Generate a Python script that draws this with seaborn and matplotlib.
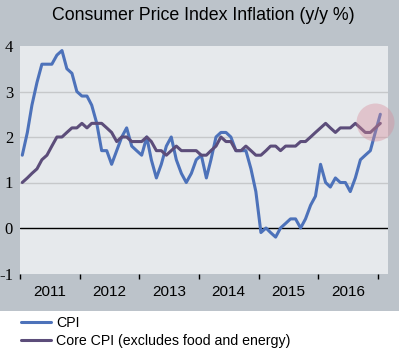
import pandas as pd
import matplotlib
matplotlib.use("Agg")
import matplotlib.pyplot as plt
import matplotlib.dates as mdates
from matplotlib.patches import Rectangle, Ellipse
import seaborn as sns

# monthly y/y % change, Jan 2011 - Jan 2017
cpi = [1.6, 2.1, 2.7, 3.2, 3.6, 3.6, 3.6, 3.8, 3.9, 3.5, 3.4, 3.0,
       2.9, 2.9, 2.7, 2.3, 1.7, 1.7, 1.4, 1.7, 2.0, 2.2, 1.8, 1.7,
       1.6, 2.0, 1.5, 1.1, 1.4, 1.8, 2.0, 1.5, 1.2, 1.0, 1.2, 1.5,
       1.6, 1.1, 1.5, 2.0, 2.1, 2.1, 2.0, 1.7, 1.7, 1.7, 1.3, 0.8,
       -0.1, 0.0, -0.1, -0.2, 0.0, 0.1, 0.2, 0.2, 0.0, 0.2, 0.5, 0.7,
       1.4, 1.0, 0.9, 1.1, 1.0, 1.0, 0.8, 1.1, 1.5, 1.6, 1.7, 2.1,
       2.5]
core_cpi = [1.0, 1.1, 1.2, 1.3, 1.5, 1.6, 1.8, 2.0, 2.0, 2.1, 2.2, 2.2,
            2.3, 2.2, 2.3, 2.3, 2.3, 2.2, 2.1, 1.9, 2.0, 2.0, 1.9, 1.9,
            1.9, 2.0, 1.9, 1.7, 1.7, 1.6, 1.7, 1.8, 1.7, 1.7, 1.7, 1.7,
            1.6, 1.6, 1.7, 1.8, 2.0, 1.9, 1.9, 1.7, 1.7, 1.8, 1.7, 1.6,
            1.6, 1.7, 1.8, 1.8, 1.7, 1.8, 1.8, 1.8, 1.9, 1.9, 2.0, 2.1,
            2.2, 2.3, 2.2, 2.1, 2.2, 2.2, 2.2, 2.3, 2.2, 2.1, 2.1, 2.2,
            2.3]
years = ["2011", "2012", "2013", "2014", "2015", "2016"]
y_ticks = [-1, 0, 1, 2, 3, 4]

dates = pd.date_range("2011-01-01", periods=len(cpi), freq="MS") + pd.Timedelta(days=14)
df = pd.DataFrame({"date": dates, "CPI": cpi,
                   "Core CPI (excludes food and energy)": core_cpi})
df = df.melt(id_vars="date", var_name="series", value_name="value")

sns.set_style("white")
plt.rcParams["font.family"] = ["Liberation Sans", "DejaVu Sans"]
plt.rcParams["text.color"] = "black"
plt.rcParams["xtick.color"] = "black"
plt.rcParams["ytick.color"] = "black"

W, H = 399, 351
fig = plt.figure(figsize=(W / 100, H / 100), dpi=100)
fig.patch.set_facecolor("white")
fig.patches.append(Rectangle((0, 1 - 310.5 / H), 1, 310.5 / H, transform=fig.transFigure,
                             facecolor="#bcc3ca", edgecolor="none", zorder=-10))

ax = fig.add_axes([20 / W, 1 - 273.5 / H, 368 / W, 227.5 / H])
ax.set_facecolor("#e6e9ec")

palette = {"CPI": "#4d72ba", "Core CPI (excludes food and energy)": "#5c4d7a"}
sns.lineplot(data=df, x="date", y="value", hue="series", palette=palette,
             linewidth=2.2, ax=ax, legend=True)

ax.set_ylim(-1, 4)
ax.set_yticks(y_ticks)
ax.set_yticklabels([str(v) for v in y_ticks], family="Liberation Serif", fontsize=12)
for v in [1, 2, 3]:
    ax.axhline(v, color="#c6c8ca", linewidth=1, zorder=0.5)
ax.axhline(0, color="black", linewidth=1, zorder=1)

ax.set_xlim(pd.Timestamp("2011-01-01"), pd.Timestamp("2017-03-03"))
ax.xaxis.set_major_locator(mdates.YearLocator())
ax.xaxis.set_major_formatter(plt.NullFormatter())
ax.set_xticks([pd.Timestamp(f"{y}-07-02") for y in years], minor=True)
ax.set_xticklabels(years, minor=True, fontsize=11)
ax.tick_params(axis="x", which="major", direction="out", length=3.5, width=1, color="black", bottom=True)
ax.tick_params(axis="x", which="minor", length=0, pad=8)
ax.tick_params(axis="y", length=0, pad=5)
ax.set_xlabel("")
ax.set_ylabel("")
for s in ax.spines.values():
    s.set_visible(False)

# highlight on the latest reading
ax.add_patch(Ellipse((375.5 / W, 1 - 122.5 / H), 38 / W, 38 / H, transform=fig.transFigure,
                     facecolor="#d88a98", alpha=0.38, edgecolor="none", zorder=5, clip_on=False))

handles, labels = ax.get_legend_handles_labels()
ax.get_legend().remove()
fig.legend(handles, labels, loc="upper left", bbox_to_anchor=(18 / W, 1 - 313 / H),
           frameon=False, fontsize=10.2, handlelength=2.1, handletextpad=0.4,
           labelspacing=0.3, borderaxespad=0, borderpad=0.2)

fig.text(203.5 / W, 1 - 15 / H, "Consumer Price Index Inflation (y/y %)",
         ha="center", va="center", fontsize=12.8)

fig.savefig("out.png", dpi=100)
